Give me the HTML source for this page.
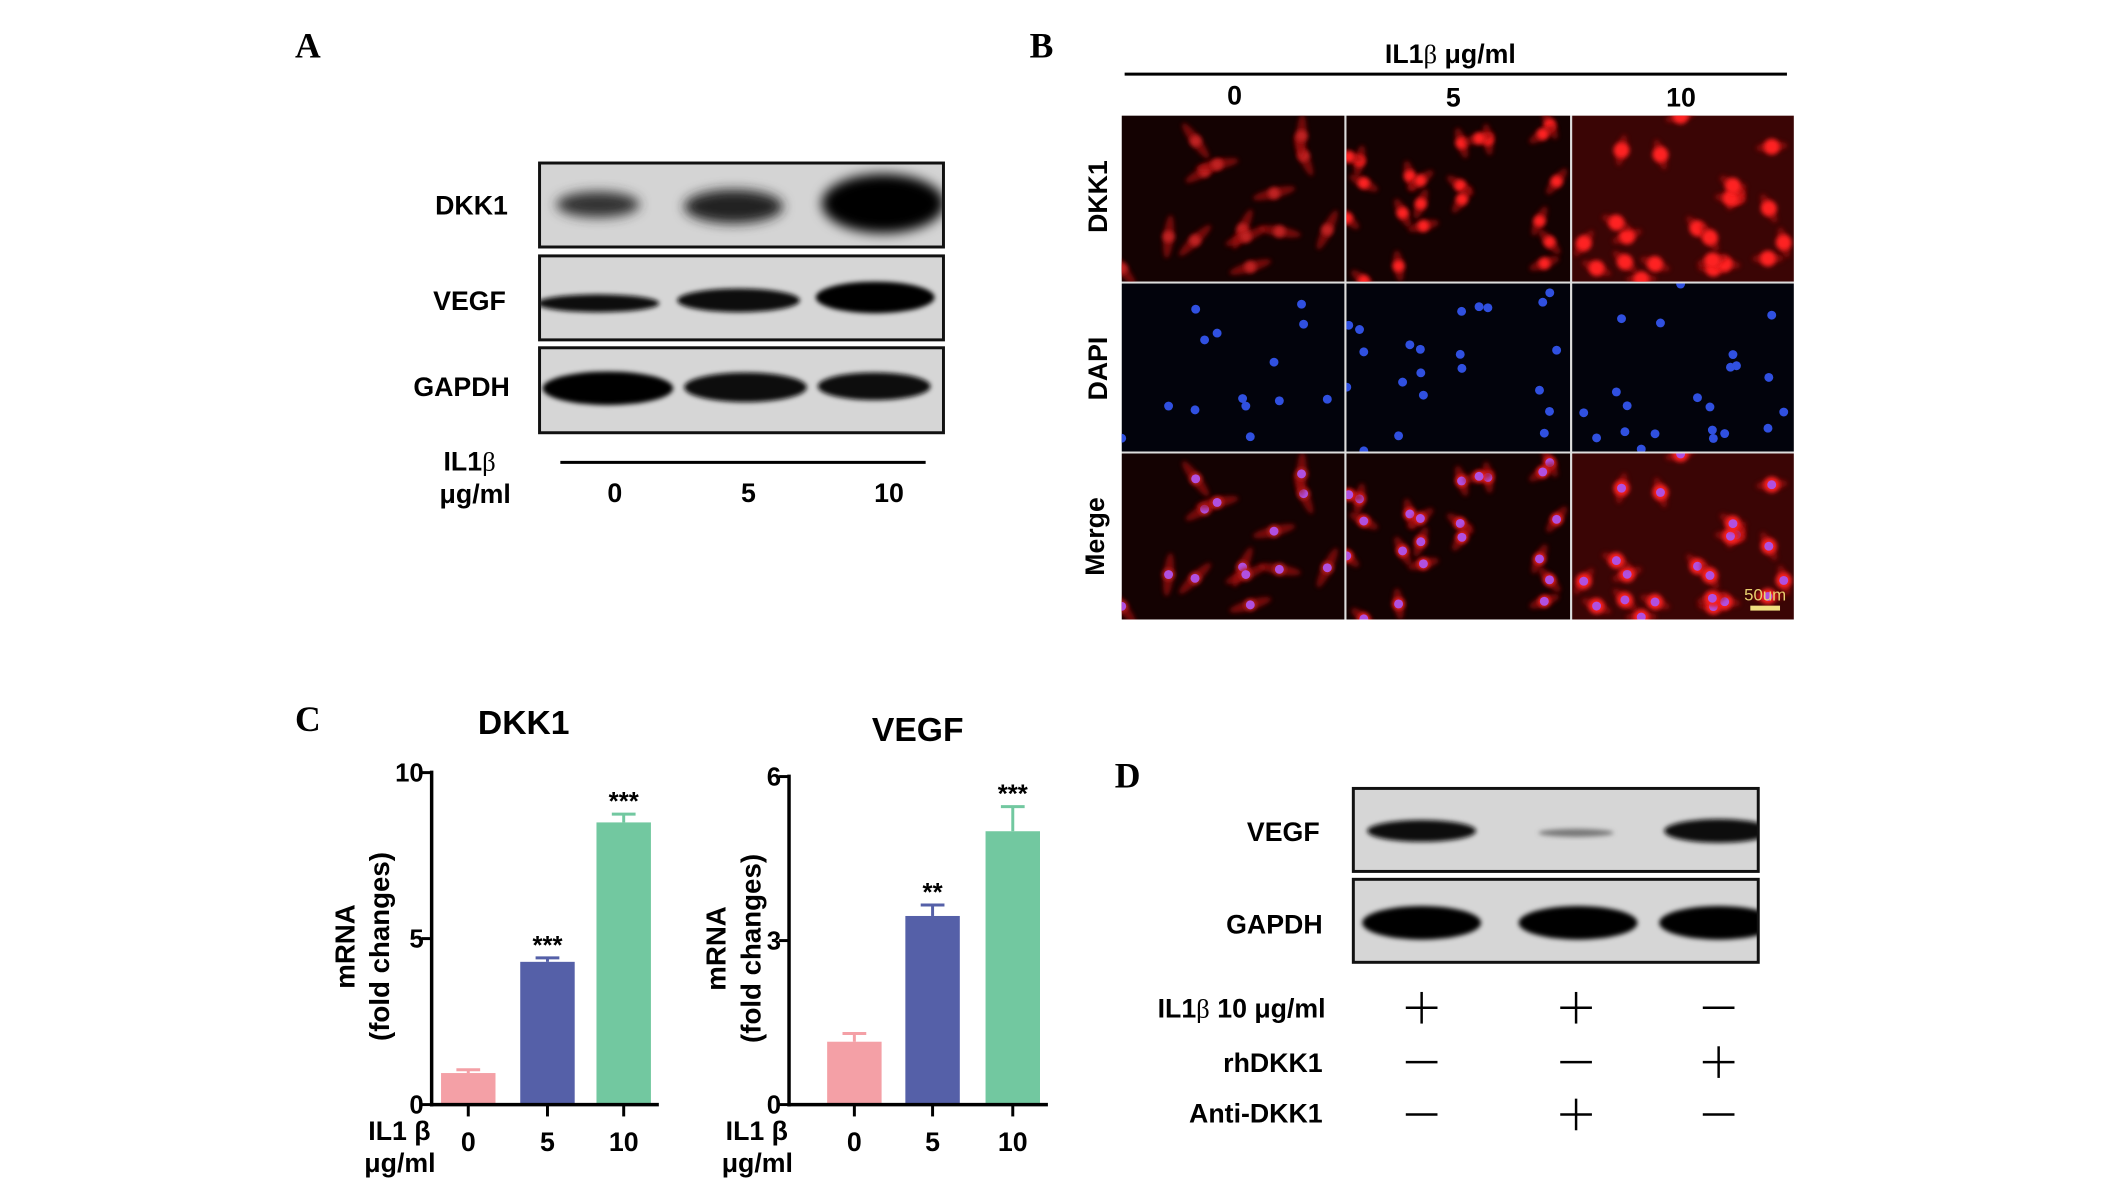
<!DOCTYPE html>
<html><head><meta charset="utf-8"><style>
html,body{margin:0;padding:0;background:#fff;}
svg{display:block;font-family:"Liberation Sans",Arial,sans-serif;}
.lbl{font-weight:bold;font-size:27px;fill:#000;}
.pl{font-family:"Liberation Serif",serif;font-weight:bold;font-size:36px;}
</style></head><body>
<svg id="fig" width="2126" height="1190" viewBox="0 0 2126 1190">
<defs>
<filter id="b6" x="-50%" y="-50%" width="200%" height="200%"><feGaussianBlur stdDeviation="6"/></filter>
<filter id="b3" x="-50%" y="-50%" width="200%" height="200%"><feGaussianBlur stdDeviation="2.5"/></filter>
<clipPath id="cA1"><rect x="545" y="165" width="408" height="85"/></clipPath>
<clipPath id="cA2"><rect x="545" y="259" width="408" height="85"/></clipPath>
<clipPath id="cA3"><rect x="545" y="352" width="408" height="86"/></clipPath>
<clipPath id="cD1"><rect x="1367" y="798" width="409" height="84"/></clipPath>
<clipPath id="cD2"><rect x="1367" y="890" width="409" height="84"/></clipPath>
</defs>
<g transform="scale(0.99,0.988)">
<!-- Panel A -->
<g>
<text class="pl" x="298" y="58">A</text>
<g>
<rect x="545" y="165" width="408" height="85" fill="#d4d4d4"/>
<g clip-path="url(#cA1)">
<ellipse cx="604" cy="207" rx="42" ry="13" fill="#333" filter="url(#b6)"/>
<ellipse cx="741" cy="209" rx="50" ry="17" fill="#222" filter="url(#b6)"/>
<ellipse cx="892" cy="206" rx="62" ry="30" fill="#050505" filter="url(#b6)"/>
</g>
<rect x="545" y="165" width="408" height="85" fill="none" stroke="#111" stroke-width="3"/>
</g>
<g>
<rect x="545" y="259" width="408" height="85" fill="#d6d6d6"/>
<g clip-path="url(#cA2)">
<ellipse cx="604" cy="307" rx="62" ry="9" fill="#111" filter="url(#b3)"/>
<ellipse cx="746" cy="304" rx="62" ry="12" fill="#0a0a0a" filter="url(#b3)"/>
<ellipse cx="884" cy="301" rx="60" ry="16" fill="#050505" filter="url(#b3)"/>
</g>
<rect x="545" y="259" width="408" height="85" fill="none" stroke="#111" stroke-width="3"/>
</g>
<g>
<rect x="545" y="352" width="408" height="86" fill="#d6d6d6"/>
<g clip-path="url(#cA3)">
<ellipse cx="614" cy="393" rx="66" ry="17" fill="#050505" filter="url(#b3)"/>
<ellipse cx="753" cy="392" rx="62" ry="15" fill="#080808" filter="url(#b3)"/>
<ellipse cx="883" cy="391" rx="57" ry="14" fill="#0a0a0a" filter="url(#b3)"/>
</g>
<rect x="545" y="352" width="408" height="86" fill="none" stroke="#111" stroke-width="3"/>
</g>
<text class="lbl" x="513" y="217" text-anchor="end">DKK1</text>
<text class="lbl" x="511" y="314" text-anchor="end">VEGF</text>
<text class="lbl" x="515" y="401" text-anchor="end">GAPDH</text>
<line x1="566" y1="468" x2="935" y2="468" stroke="#000" stroke-width="3"/>
<text class="lbl" x="448" y="476">IL1<tspan font-weight="normal" font-family="Liberation Serif">β</tspan></text>
<text class="lbl" x="444" y="509">μg/ml</text>
<text class="lbl" x="621" y="508" text-anchor="middle">0</text>
<text class="lbl" x="756" y="508" text-anchor="middle">5</text>
<text class="lbl" x="898" y="508" text-anchor="middle">10</text>
</g>
<!-- Panel B -->
<g>
<text class="pl" x="1040" y="58">B</text>
<text class="lbl" x="1465" y="64" text-anchor="middle">IL1<tspan font-weight="normal" font-family="Liberation Serif">β</tspan>   μg/ml</text>
<line x1="1136" y1="75" x2="1805" y2="75" stroke="#000" stroke-width="3"/>
<text class="lbl" x="1247" y="106" text-anchor="middle">0</text>
<text class="lbl" x="1468" y="108" text-anchor="middle">5</text>
<text class="lbl" x="1698" y="108" text-anchor="middle">10</text>
<rect x="1133" y="117" width="679" height="510" fill="#ddd"/>
<g id="cells"></g>
<text class="lbl" transform="translate(1118,199) rotate(-90)" text-anchor="middle">DKK1</text>
<text class="lbl" transform="translate(1118,373) rotate(-90)" text-anchor="middle">DAPI</text>
<text class="lbl" transform="translate(1115,543) rotate(-90)" text-anchor="middle">Merge</text>
<text x="1783" y="608" font-size="17" fill="#e8d070" text-anchor="middle">50um</text>
<rect x="1768" y="613" width="30" height="5" fill="#f0e080"/>
</g>
<!-- Panel C -->
<g>
<text class="pl" x="298" y="740">C</text>
<g id="chart1"></g>
<g id="chart2"></g>
</g>
<!-- Panel D -->
<g>
<text class="pl" x="1126" y="797">D</text>
<g>
<rect x="1367" y="798" width="409" height="84" fill="#d6d6d6"/>
<g clip-path="url(#cD1)">
<ellipse cx="1436" cy="841" rx="55" ry="11" fill="#111" filter="url(#b3)"/>
<ellipse cx="1592" cy="843" rx="38" ry="4" fill="#777" filter="url(#b3)"/>
<ellipse cx="1736" cy="841" rx="55" ry="12" fill="#0a0a0a" filter="url(#b3)"/>
</g>
<rect x="1367" y="798" width="409" height="84" fill="none" stroke="#111" stroke-width="3"/>
</g>
<g>
<rect x="1367" y="890" width="409" height="84" fill="#d6d6d6"/>
<g clip-path="url(#cD2)">
<ellipse cx="1436" cy="934" rx="60" ry="17" fill="#050505" filter="url(#b3)"/>
<ellipse cx="1594" cy="934" rx="60" ry="17" fill="#050505" filter="url(#b3)"/>
<ellipse cx="1736" cy="934" rx="60" ry="17" fill="#050505" filter="url(#b3)"/>
</g>
<rect x="1367" y="890" width="409" height="84" fill="none" stroke="#111" stroke-width="3"/>
</g>
<text class="lbl" x="1333" y="851" text-anchor="end">VEGF</text>
<text class="lbl" x="1336" y="945" text-anchor="end">GAPDH</text>
<text class="lbl" x="1339" y="1030" text-anchor="end">IL1<tspan font-weight="normal" font-family="Liberation Serif">β</tspan>  10  μg/ml</text>
<text class="lbl" x="1336" y="1085" text-anchor="end">rhDKK1</text>
<text class="lbl" x="1336" y="1136" text-anchor="end">Anti-DKK1</text>
<g id="signs"></g>
</g>
</g>
</svg>
<script>
var NS="http://www.w3.org/2000/svg";
function mk(p,t,a){var e=document.createElementNS(NS,t);for(var k in a)e.setAttribute(k,a[k]);p.appendChild(e);return e;}

// ---- Chart data ----
var categories=["0","5","10"];
var dkk1Values=[0.95,4.3,8.5];
var dkk1Errors=[0.1,0.12,0.25];
var dkk1Stars=["","***","***"];
var dkk1Ticks=[0,5,10];
var vegfValues=[1.15,3.45,5.0];
var vegfErrors=[0.15,0.2,0.45];
var vegfStars=["","**","***"];
var vegfTicks=[0,3,6];
var barColors=["#f4a0a6","#5560a8","#72c8a0"];

function chart(gid,title,titleX,titleY,ax,y0,y1,ymax,vals,errs,stars,ticks,bx,ylabX){
  var g=document.getElementById(gid);
  
  
  function Y(v){return y0-(v/ymax)*(y0-y1);}
  var t=mk(g,'text',{x:titleX,y:titleY,'text-anchor':'middle','class':'lbl',style:'font-size:34px'});t.textContent=title;
  
  
  var bw=55;
  for(var i=0;i<vals.length;i++){
    var cx=bx[i],top=Y(vals[i]),et=Y(vals[i]+errs[i]);
    mk(g,'line',{x1:cx,x2:cx,y1:top,y2:et,stroke:barColors[i],'stroke-width':3});
    mk(g,'line',{x1:cx-12,x2:cx+12,y1:et,y2:et,stroke:barColors[i],'stroke-width':3});
    var r=mk(g,'rect',{x:cx-bw/2,y:top,width:bw,height:y0-top,fill:barColors[i]});
    
    
    if(stars[i]){var s=mk(g,'text',{x:cx,y:et-4,'text-anchor':'middle','class':'lbl',style:'font-size:26px'});s.textContent=stars[i];}
    mk(g,'line',{x1:cx,x2:cx,y1:y0,y2:y0+12,stroke:'#000','stroke-width':3});
    var c=mk(g,'text',{x:cx,y:y0+47,'text-anchor':'middle','class':'lbl'});c.textContent=categories[i];
  }
  mk(g,'line',{x1:ax,x2:ax,y1:y1-2,y2:y0+2,stroke:'#000','stroke-width':3.5});
  mk(g,'line',{x1:ax,x2:bx[2]+bw/2+8,y1:y0,y2:y0,stroke:'#000','stroke-width':3.5});
  for(var j=0;j<ticks.length;j++){
    var ty=Y(ticks[j]);
    mk(g,'line',{x1:ax-10,x2:ax,y1:ty,y2:ty,stroke:'#000','stroke-width':3});
    var tt=mk(g,'text',{x:ax-8,y:ty+9,'text-anchor':'end','class':'lbl',style:'font-size:26px'});tt.textContent=ticks[j];
  }
  var yl=mk(g,'text',{transform:'translate('+ylabX+','+((y0+y1)/2+8)+') rotate(-90)','text-anchor':'middle','class':'lbl',style:'font-size:28px'});
  
  
  var a=mk(yl,'tspan',{x:0,dy:0});a.textContent='mRNA';
  var b=mk(yl,'tspan',{x:0,dy:35});b.textContent='(fold changes)';
  var il=mk(g,'text',{x:ax-64,y:y0+36,'class':'lbl'});il.textContent='IL1 β';
  var u=mk(g,'text',{x:ax-68,y:y0+68,'class':'lbl'});u.textContent='μg/ml';
}
chart('chart1','DKK1',529,743,436,1118,782,10,dkk1Values,dkk1Errors,dkk1Stars,dkk1Ticks,[473,553,630],358);
chart('chart2','VEGF',927,750,797,1118,786,6,vegfValues,vegfErrors,vegfStars,vegfTicks,[863,942,1023],733);

// ---- Panel D signs ----
var signRows=[["+","+","-"],["-","-","+"],["-","+","-"]];
var signX=[1436,1592,1736],signY=[1020,1075,1128];
var sg=document.getElementById('signs');
for(var r=0;r<3;r++)for(var c=0;c<3;c++){
  var x=signX[c],y=signY[r];
  mk(sg,'line',{x1:x-16,x2:x+16,y1:y,y2:y,stroke:'#000','stroke-width':2.5});
  if(signRows[r][c]=='+')mk(sg,'line',{x1:x,x2:x,y1:y-16,y2:y+16,stroke:'#000','stroke-width':2.5});
}

// ---- Fluorescence tiles ----
var seed=7;function rnd(){seed=(seed*16807)%2147483647;return seed/2147483647;}
var cg=document.getElementById('cells');
var colX=[1133,1360,1588],colW=[225,226,224],rowY=[117,287,459],rowH=[168,170,168];
var counts=[14,22,22];
for(var c=0;c<3;c++){
  var pts=[];
  for(var k=0;k<counts[c];k++)pts.push([rnd(),rnd(),rnd()]);
  for(var r=0;r<3;r++){
    var x0=colX[c],y0=rowY[r],w=colW[c],h=rowH[r];
    var tile=mk(cg,'g',{});
    
    
    var clip=mk(tile,'clipPath',{id:'cp'+c+r});mk(clip,'rect',{x:x0,y:y0,width:w,height:h});
    var inner=mk(tile,'g',{'clip-path':'url(#cp'+c+r+')'});
    mk(inner,'rect',{x:x0,y:y0,width:w,height:h,fill:r==1?'#02030c':(c==2?'#3a0505':'#140202')});
    for(var k=0;k<pts.length;k++){
      var px=x0+pts[k][0]*w,py=y0+pts[k][1]*h,ang=pts[k][2]*180;
      if(r!=1){
        mk(inner,'ellipse',{cx:px,cy:py,rx:c==0?22:16,ry:5,fill:'#a01010',opacity:0.7,transform:'rotate('+ang+' '+px+' '+py+')',filter:'url(#b3)'});
        mk(inner,'circle',{cx:px,cy:py,r:c==2?8:6,fill:c==0?'#c02020':'#ff2020',filter:'url(#b3)'});
      }
      if(r>0){
        mk(inner,'circle',{cx:px,cy:py,r:4.5,fill:r==1?'#3050e0':'#b050e0'});
      }
    }
  }
}
</script>
</body></html>
